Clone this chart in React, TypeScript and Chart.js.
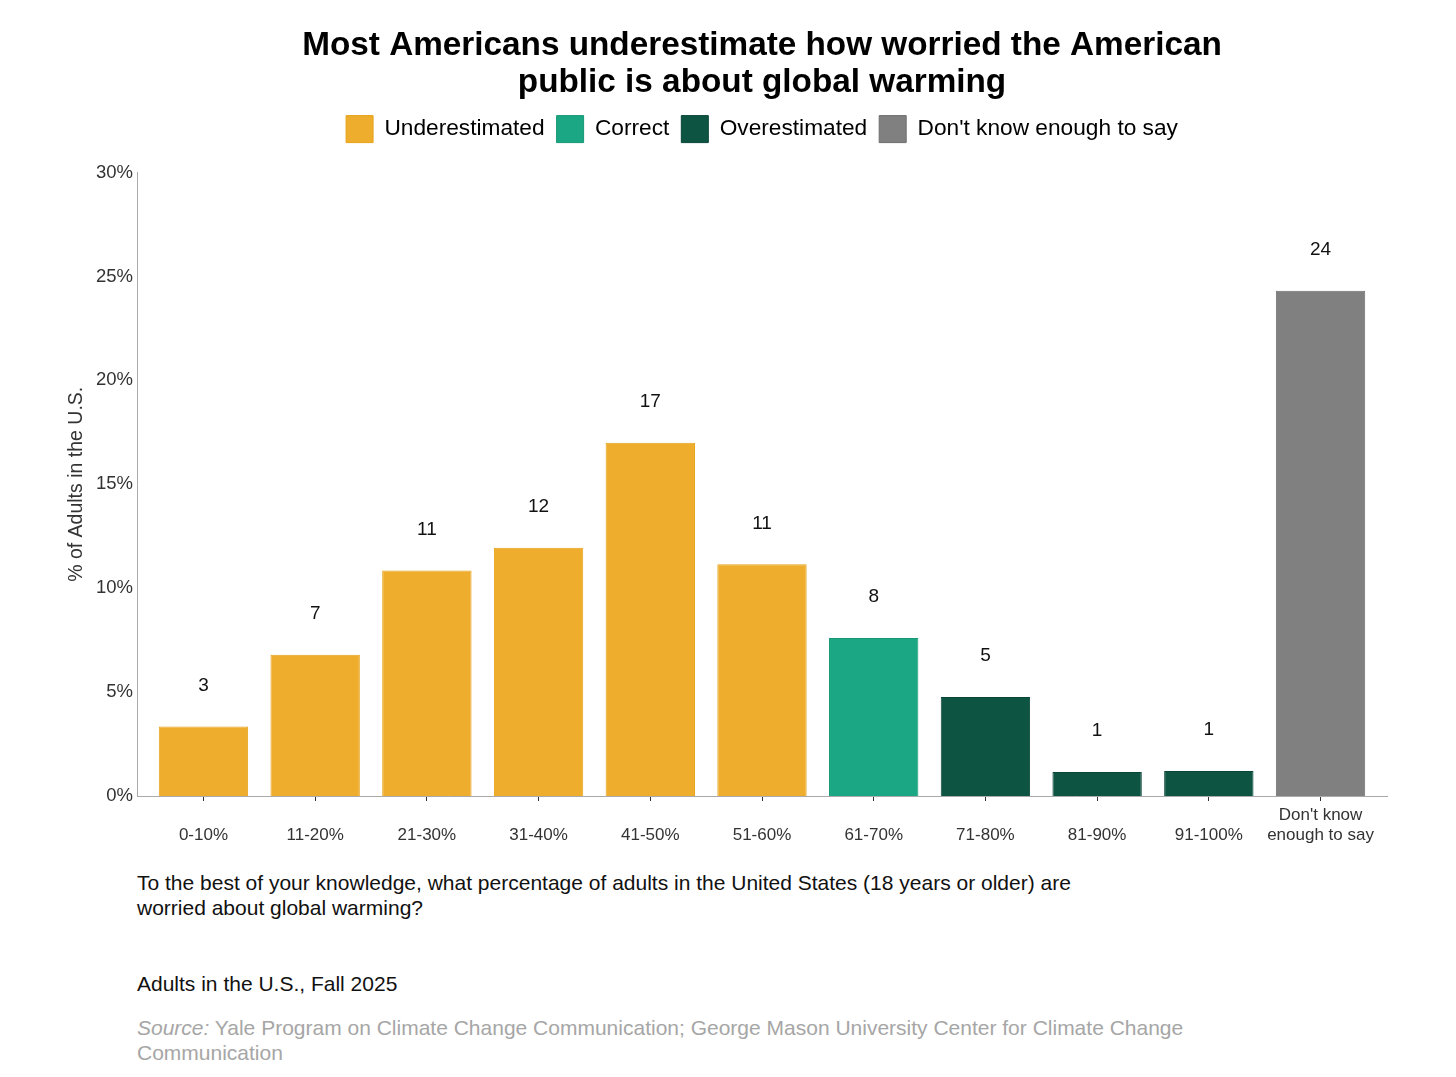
import { useEffect, useRef } from 'react';
import { Chart, registerables } from 'chart.js';

Chart.register(...registerables);

const FONT = '"Liberation Sans", Arial, Helvetica, sans-serif';

// Estimated answer ranges and shares (% of adults)
const categories = ['0-10%', '11-20%', '21-30%', '31-40%', '41-50%', '51-60%', '61-70%', '71-80%', '81-90%', '91-100%', "Don't know enough to say"];
const shares = [3.35, 6.8, 10.85, 11.95, 17.0, 11.15, 7.6, 4.77, 1.15, 1.2, 24.32];
const shownLabels = [3, 7, 11, 12, 17, 11, 8, 5, 1, 1, 24];
const categoryGroup = [0, 0, 0, 0, 0, 0, 1, 2, 2, 2, 3];

const groups = ['Underestimated', 'Correct', 'Overestimated', "Don't know enough to say"];
const groupColors = ['#EEAD2D', '#1BA783', '#0D5443', '#808080'];
const groupBorders = ['#E8A21A', '#169974', '#0A4638', '#6E6E6E'];

const yTicks = [0, 5, 10, 15, 20, 25, 30];

// two-line tick labels, single ones pushed to the lower line
const tickLines = categories.map((c) =>
  c === "Don't know enough to say" ? ["Don't know", 'enough to say'] : ['', c]
);

const valueLabels = {
  id: 'valueLabels',
  afterDatasetsDraw(chart: any) {
    const { ctx } = chart;
    const meta = chart.getDatasetMeta(0);
    ctx.save();
    ctx.font = `19px ${FONT}`;
    ctx.fillStyle = '#111';
    ctx.textAlign = 'center';
    ctx.textBaseline = 'middle';
    meta.data.forEach((bar: any, i: number) => {
      ctx.fillText(String(shownLabels[i]), bar.x, bar.y - 41);
    });
    ctx.restore();
  },
};

// extra room under the legend
const legendGap = {
  id: 'legendGap',
  afterInit(chart: any) {
    const legend = chart.legend;
    if (!legend) return;
    const fit = legend.fit;
    legend.fit = function () {
      fit.call(this);
      this.height += 20;
    };
  },
};

function WorryChart() {
  const chartRef = useRef<HTMLCanvasElement>(null);
  const chartInstance = useRef<Chart | null>(null);

  useEffect(() => {
    if (!chartRef.current) return;
    const ctx = chartRef.current.getContext('2d');
    if (!ctx) return;
    if (chartInstance.current) chartInstance.current.destroy();

    chartInstance.current = new Chart(ctx, {
      type: 'bar',
      data: {
        labels: tickLines,
        datasets: [
          {
            data: shares,
            backgroundColor: categoryGroup.map((g) => groupColors[g]),
            borderColor: categoryGroup.map((g) => groupBorders[g]),
            borderWidth: 1,
            categoryPercentage: 1,
            barPercentage: 0.8,
          },
        ],
      },
      plugins: [valueLabels, legendGap],
      options: {
        responsive: true,
        maintainAspectRatio: false,
        animation: false,
        layout: { padding: { left: 64, right: 69, top: 0, bottom: 0 } },
        plugins: {
          tooltip: { enabled: false },
          title: {
            display: true,
            fullSize: false,
            text: ['Most Americans underestimate how worried the American', 'public is about global warming'],
            color: '#000',
            font: { family: FONT, size: 33.3, weight: 'bold', lineHeight: 1.09 },
            padding: { top: 28, bottom: 3 },
          },
          legend: {
            display: true,
            fullSize: false,
            position: 'top',
            labels: {
              boxWidth: 27,
              boxHeight: 27,
              padding: 12,
              color: '#111',
              font: { family: FONT, size: 22.7 },
              generateLabels: () =>
                groups.map((g, i) => ({
                  text: g,
                  fillStyle: groupColors[i],
                  strokeStyle: groupBorders[i],
                  lineWidth: 1,
                  hidden: false,
                  datasetIndex: 0,
                })),
            },
            onClick: () => {},
          },
        },
        scales: {
          x: {
            afterFit: (scale: any) => {
              scale.height = 60;
            },
            // a little extra space at both ends of the category axis
            afterBuildTicks: (scale: any) => {
              scale._startValue -= 0.095;
              scale._valueRange += 0.19;
            },
            grid: {
              display: true,
              drawOnChartArea: false,
              drawTicks: true,
              tickLength: 5,
              offset: false,
              color: '#333',
            },
            border: { display: true, color: '#AAAAAA', width: 1 },
            ticks: {
              color: '#333',
              font: { family: FONT, size: 17 },
              padding: 4,
              maxRotation: 0,
              autoSkip: false,
            },
          },
          y: {
            min: 0,
            max: 30,
            afterFit: (scale: any) => {
              scale.width = 73;
            },
            afterBuildTicks: (scale: any) => {
              scale.ticks = yTicks.map((v) => ({ value: v }));
            },
            grid: { display: false, drawTicks: false, tickLength: 0 },
            border: { display: true, color: '#AAAAAA', width: 1 },
            ticks: {
              color: '#333',
              font: { family: FONT, size: 18.5 },
              padding: 4,
              callback: (v: any) => `${v}%`,
            },
            title: {
              display: true,
              text: '% of Adults in the U.S.',
              color: '#333',
              font: { family: FONT, size: 19.5 },
              padding: { top: 1, bottom: 0 },
            },
          },
        },
      },
    });

    return () => {
      if (chartInstance.current) {
        chartInstance.current.destroy();
        chartInstance.current = null;
      }
    };
  }, []);

  return (
    <div style={{ position: 'absolute', left: 0, top: 0, width: 1456, height: 856 }}>
      <canvas ref={chartRef} />
    </div>
  );
}

export default function App() {
  const text = { position: 'absolute' as const, left: 137, fontFamily: FONT, fontSize: 21, lineHeight: '25px', margin: 0 };
  return (
    <div style={{ position: 'absolute', left: 0, top: 0, width: 1456, height: 1077, background: '#fff' }}>
      <WorryChart />
      <div style={{ ...text, top: 870, color: '#111', width: 1100 }}>
        To the best of your knowledge, what percentage of adults in the United States (18 years or older) are
        <br />
        worried about global warming?
      </div>
      <div style={{ ...text, top: 971, color: '#111' }}>Adults in the U.S., Fall 2025</div>
      <div style={{ ...text, top: 1015, color: '#A6A6A6', width: 1250 }}>
        <i>Source:</i> Yale Program on Climate Change Communication; George Mason University Center for Climate Change
        <br />
        Communication
      </div>
    </div>
  );
}
